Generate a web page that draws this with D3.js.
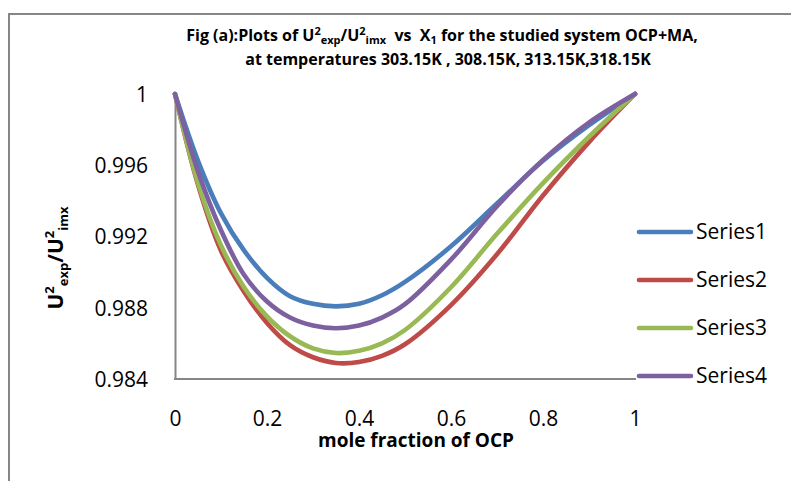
<!DOCTYPE html>
<html><head><meta charset="utf-8">
<script src="https://cdn.jsdelivr.net/npm/d3@7"></script>
<style>body{margin:0;background:#fff}svg{display:block}text{font-family:"Open Sans","Noto Sans",sans-serif;fill:#000}</style>
</head><body>
<script>
const xValues = [0, 0.05, 0.1, 0.15, 0.2, 0.25, 0.3, 0.35, 0.4, 0.45, 0.5, 0.6, 0.7, 0.8, 0.9, 1];
const series1 = [1, 0.99625, 0.99330, 0.99122, 0.98968, 0.98865, 0.98822, 0.98808, 0.98822, 0.98870, 0.98945, 0.99145, 0.99385, 0.99625, 0.99825, 1];
const series2 = [1, 0.99490, 0.99120, 0.98890, 0.98715, 0.98590, 0.98522, 0.98490, 0.98495, 0.98530, 0.98595, 0.98815, 0.99100, 0.99430, 0.99730, 1];
const series3 = [1, 0.99500, 0.99150, 0.98915, 0.98752, 0.98640, 0.98572, 0.98546, 0.98558, 0.98600, 0.98675, 0.98915, 0.99215, 0.99500, 0.99760, 1];
const series4 = [1, 0.99565, 0.99235, 0.98985, 0.98835, 0.98745, 0.98700, 0.98685, 0.98700, 0.98745, 0.98820, 0.99070, 0.99370, 0.99630, 0.99840, 1];
const seriesNames = ["Series1", "Series2", "Series3", "Series4"];
const seriesColors = ["#4a7ebb", "#be4b48", "#98b954", "#7d60a0"];
const xTicks = [0, 0.2, 0.4, 0.6, 0.8, 1];
const yTicks = [0.984, 0.988, 0.992, 0.996, 1];

const W = 791, H = 481;
const svg = d3.select("body").append("svg").attr("width", W).attr("height", H);

// outer chart border
svg.append("path").attr("d", "M9,481 L9,14 L791,14").attr("fill", "none").attr("stroke", "#868686").attr("stroke-width", 2);

const x = d3.scaleLinear().domain([0, 1]).range([175, 635]);
const y = d3.scaleLinear().domain([0.984, 1]).range([379, 94]);

// axes
const xAxis = svg.append("g").attr("transform", `translate(0,${y(0.984)})`)
  .call(d3.axisBottom(x).tickValues(xTicks).tickSize(0).tickPadding(32).tickFormat(d3.format("")));
const yAxis = svg.append("g").attr("transform", `translate(${x(0)},0)`)
  .call(d3.axisLeft(y).tickValues(yTicks).tickSize(0).tickPadding(27).tickFormat(d3.format("")));
[xAxis, yAxis].forEach(g => {
  g.select(".domain").attr("stroke", "#868686").attr("stroke-width", 2);
  g.selectAll("text").style("font-size", "21px").style("font-family", "'Open Sans',sans-serif").attr("fill", "#000");
});
yAxis.selectAll("text").attr("dy", "0.35em");
xAxis.select(".domain").attr("d", `M${x(0) - 1},0H${x(1) + 1}`);

// lines
const allSeries = [series1, series2, series3, series4];
const line = d3.line().x(d => x(d[0])).y(d => y(d[1])).curve(d3.curveCatmullRom.alpha(0.5));
allSeries.forEach((s, i) => {
  svg.append("path").datum(xValues.map((xv, j) => [xv, s[j]]))
    .attr("d", line).attr("fill", "none").attr("stroke", seriesColors[i])
    .attr("stroke-width", 4.6).attr("stroke-linecap", "round").attr("stroke-linejoin", "round");
});

// legend
const leg = svg.append("g");
seriesNames.forEach((n, i) => {
  const ly = 232 + i * 48;
  leg.append("line").attr("x1", 639).attr("x2", 691).attr("y1", ly).attr("y2", ly)
    .attr("stroke", seriesColors[i]).attr("stroke-width", 4.6).attr("stroke-linecap", "round");
  leg.append("text").attr("x", 696).attr("y", ly).attr("dy", "0.35em").style("font-size", "21px").text(n);
});

// title
const t = svg.append("text").attr("text-anchor", "middle").style("font-weight", "bold").style("font-size", "16px");
const t1 = t.append("tspan").attr("x", 442).attr("y", 41);
t1.append("tspan").text("Fig (a):Plots of U");
t1.append("tspan").attr("dy", -6).style("font-size", "11px").text("2");
t1.append("tspan").attr("dy", 9).style("font-size", "11px").text("exp");
t1.append("tspan").attr("dy", -3).text("/U");
t1.append("tspan").attr("dy", -6).style("font-size", "11px").text("2");
t1.append("tspan").attr("dy", 9).style("font-size", "11px").text("imx");
t1.append("tspan").attr("dy", -3).text("\u00a0\u00a0vs\u00a0\u00a0X");
t1.append("tspan").attr("dy", 3).style("font-size", "11px").text("1");
t1.append("tspan").attr("dy", -3).text(" for the studied system OCP+MA,");
t.append("tspan").attr("x", 448).attr("y", 65).text("at temperatures 303.15K , 308.15K, 313.15K,318.15K");

// y axis title
const yt = svg.append("text").attr("transform", "translate(63,258) rotate(-90)").attr("text-anchor", "middle")
  .style("font-weight", "bold").style("font-size", "21px");
yt.append("tspan").text("U");
yt.append("tspan").attr("dy", -9).style("font-size", "13px").text("2");
yt.append("tspan").attr("dy", 14).style("font-size", "13px").text("exp");
yt.append("tspan").attr("dy", -5).text("/U");
yt.append("tspan").attr("dy", -9).style("font-size", "13px").text("2");
yt.append("tspan").attr("dy", 14).style("font-size", "13px").text("imx");

// x axis title
svg.append("text").attr("x", 416).attr("y", 447).attr("text-anchor", "middle")
  .style("font-weight", "bold").style("font-size", "19px").text("mole fraction of OCP");
</script>
</body></html>
